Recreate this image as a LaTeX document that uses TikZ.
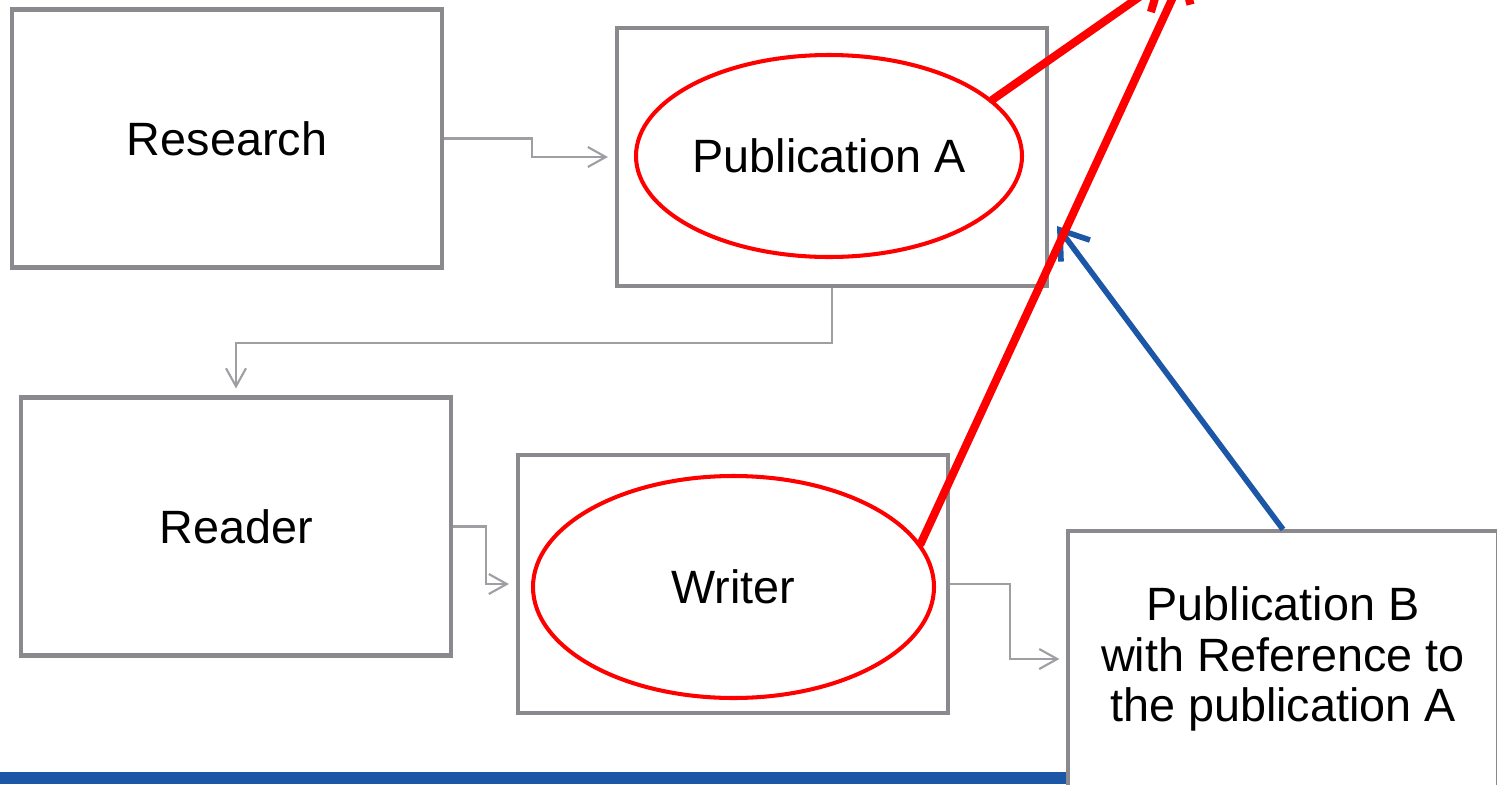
\documentclass[tikz,border=0pt]{standalone}
\usepackage{fontspec}
\setmainfont{Liberation Sans}
\usetikzlibrary{arrows.meta,shapes.geometric}
\definecolor{boxgray}{RGB}{137,137,142}
\definecolor{linegray}{RGB}{158,158,163}
\definecolor{barblue}{RGB}{28,86,166}
\definecolor{pptred}{RGB}{255,0,0}
\begin{document}
\begin{tikzpicture}[
  box/.style={draw=boxgray,line width=1.15pt,minimum width=4.3cm,minimum height=2.58cm,inner sep=0pt,
    font=\fontsize{13.3}{14.3}\selectfont,align=center},
  oval/.style={ellipse,draw=pptred,line width=1.15pt,inner sep=0pt,font=\fontsize{13.3}{14.3}\selectfont},
  flow/.style={draw=linegray,line width=0.6pt,-{Straight Barb[length=1.8mm,width=2mm]},shorten >=2pt},
  cite/.style={draw=pptred,line width=2.3pt,line cap=round,-{Straight Barb[length=2.4mm,width=3.8mm]}}]
\clip (0,0) rectangle (14.97,7.84);
\fill[barblue] (0,0) rectangle (10.68,0.12);
\node[box] (research) at (2.27,6.455) {Research};
\node[box] (pubAbox) at (8.32,6.27) {};
\node[oval,minimum width=3.86cm,minimum height=2.02cm] (pubA) at (8.29,6.28) {Publication A};
\node[box] (reader) at (2.36,2.575) {Reader};
\node[box] (writerbox) at (7.33,2.00) {};
\node[oval,minimum width=4.01cm,minimum height=2.22cm] (writer) at (7.335,1.97) {Writer};
\node[box,line width=0.9pt,minimum height=2.56cm,fill=white] (pubB) at (12.83,1.25) {Publication B\\with Reference to\\the publication A};
\coordinate (bluetip) at (10.57,5.58);
\coordinate (tipA) at (11.65,8.05);
\coordinate (tipB) at (11.86,8.15);
\draw[flow] (research.east) -- ++(0.88,0) |- (pubAbox.west);
\draw[flow] (pubAbox.south) -- ++(0,-0.55) -| (reader.north);
\draw[flow] (reader.east) -- ++(0.33,0) |- (writerbox.west);
\draw[flow] (writerbox.east) -- ++(0.60,0) |- (pubB.west);
\draw[draw=barblue,line width=1.6pt,-{Straight Barb[length=2.6mm,width=3.6mm]}] (pubB.north) -- (bluetip);
\draw[cite] (pubA.19) -- (tipA);
\draw[cite] (writer.13) -- (tipB);
\end{tikzpicture}
\end{document}
